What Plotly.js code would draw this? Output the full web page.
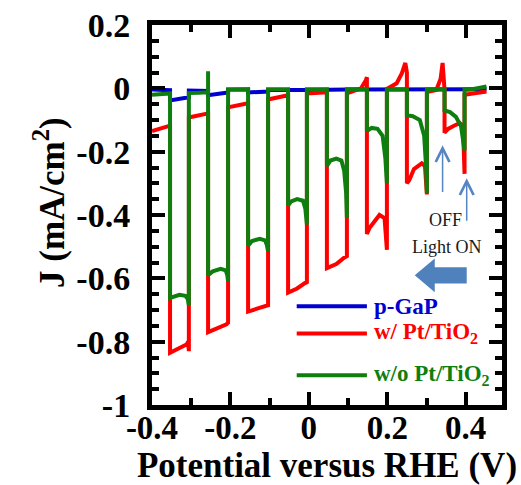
<!DOCTYPE html>
<html>
<head>
<meta charset="utf-8">
<script src="https://cdn.plot.ly/plotly-3.0.1.min.js"></script>
<style>html,body{margin:0;padding:0;background:#fff;}#chart{width:521px;height:485px;}</style>
</head>
<body>
<div id="chart"></div>
<script>
// ---- data (potential V vs RHE, current density mA/cm2) ----
const blueX = [-0.400,-0.354,-0.354,-0.330,-0.306,-0.306,-0.257,-0.257,-0.230,-0.206,-0.206,-0.155,-0.155,-0.130,-0.104,-0.104,-0.053,0.000,0.100,0.200,0.300,0.400,0.453];
const blueY = [-0.004,-0.006,-0.038,-0.033,-0.028,-0.007,-0.008,-0.022,-0.017,-0.013,-0.004,-0.004,-0.013,-0.011,-0.010,-0.005,-0.006,-0.005,-0.004,-0.004,-0.003,-0.003,-0.003];

const redX = [-0.400,-0.354,-0.354,-0.335,-0.318,-0.311,-0.308,-0.306,-0.306,-0.257,
  -0.257,-0.230,-0.210,-0.206,-0.206,-0.155,
  -0.155,-0.130,-0.110,-0.104,-0.104,-0.053,
  -0.053,-0.030,-0.010,-0.005,-0.005,0.046,
  0.046,0.070,0.090,0.097,0.097,0.133,0.145,0.148,
  0.148,0.155,0.180,0.193,0.199,0.199,0.224,0.237,0.246,0.250,
  0.250,0.256,0.268,0.288,0.296,0.301,0.301,0.325,0.336,0.341,0.344,0.346,
  0.346,0.355,0.370,0.385,0.393,0.397,0.397,0.453];
const redY = [-0.135,-0.118,-0.835,-0.823,-0.812,-0.808,-0.800,-0.830,-0.092,-0.079,
  -0.770,-0.757,-0.745,-0.740,-0.060,-0.047,
  -0.705,-0.695,-0.685,-0.685,-0.035,-0.022,
  -0.645,-0.632,-0.615,-0.612,-0.016,-0.012,
  -0.568,-0.555,-0.535,-0.530,-0.016,0.000,0.025,0.035,
  -0.460,-0.440,-0.400,-0.410,-0.510,-0.002,0.016,0.047,0.080,0.050,
  -0.300,-0.290,-0.255,-0.237,-0.245,-0.335,-0.012,-0.005,0.030,0.080,0.030,-0.005,
  -0.140,-0.128,-0.118,-0.110,-0.120,-0.270,-0.020,-0.010];

const greenX = [-0.400,-0.354,-0.354,-0.345,-0.330,-0.315,-0.309,-0.306,-0.306,-0.280,-0.257,-0.257,
  -0.257,-0.245,-0.225,-0.212,-0.208,-0.206,-0.206,-0.155,
  -0.155,-0.145,-0.125,-0.112,-0.107,-0.104,-0.104,-0.053,
  -0.053,-0.045,-0.030,-0.015,-0.009,-0.005,-0.005,0.046,
  0.046,0.055,0.070,0.083,0.090,0.095,0.097,0.097,0.148,
  0.148,0.160,0.175,0.188,0.195,0.199,0.199,0.250,
  0.250,0.265,0.283,0.294,0.299,0.301,0.301,0.346,
  0.346,0.360,0.375,0.388,0.397,0.397,0.420,0.453];
const greenY = [-0.020,-0.016,-0.662,-0.658,-0.652,-0.655,-0.665,-0.685,-0.015,-0.014,-0.012,0.054,
  -0.590,-0.578,-0.570,-0.575,-0.590,-0.610,-0.004,-0.003,
  -0.497,-0.482,-0.475,-0.480,-0.495,-0.515,-0.003,-0.003,
  -0.370,-0.357,-0.350,-0.355,-0.380,-0.430,-0.003,-0.003,
  -0.245,-0.228,-0.222,-0.228,-0.260,-0.330,-0.410,-0.003,-0.003,
  -0.135,-0.125,-0.128,-0.150,-0.220,-0.300,-0.004,-0.004,
  -0.085,-0.088,-0.100,-0.150,-0.250,-0.330,-0.004,-0.004,
  -0.070,-0.075,-0.090,-0.120,-0.196,-0.005,-0.002,0.006];

const seriesNames = ['p-GaP', 'w/ Pt/TiO<sub>2</sub>', 'w/o Pt/TiO<sub>2</sub>'];
const xTickVals = [-0.4,-0.2,0,0.2,0.4];
const xTickText = ['-0.4','-0.2','0','0.2','0.4'];
const yTickVals = [-1,-0.8,-0.6,-0.4,-0.2,0,0.2];
const yTickText = ['-1','-0.8','-0.6','-0.4','-0.2','0','0.2'];

const BLUE = '#0000d0', RED = '#ff0000', GREEN = '#0e7f0e', ARROW = '#5585c2';
const SERIF = 'Liberation Serif, Times New Roman, serif';

const traces = [
  {x: blueX, y: blueY, name: seriesNames[0], mode: 'lines', line: {color: BLUE, width: 4}},
  {x: redX, y: redY, name: seriesNames[1], mode: 'lines', line: {color: RED, width: 4}},
  {x: greenX, y: greenY, name: seriesNames[2], mode: 'lines', line: {color: GREEN, width: 4}}
];

const axisCommon = {
  showline: true, linewidth: 5, linecolor: '#000', mirror: 'allticks',
  ticks: 'inside', ticklen: 13, tickwidth: 4, tickcolor: '#000',
  showgrid: false, zeroline: false, tickmode: 'array'
};

// legend entries (line sample + label) placed inside the axes
const legY = [-0.688, -0.774, -0.906];
const legColors = [BLUE, RED, GREEN];
const shapes = legY.map((yy, i) => ({
  type: 'line', xref: 'x', yref: 'y', x0: -0.031, x1: 0.148, y0: yy, y1: yy,
  line: {color: legColors[i], width: 4}
}));
// big block arrow (scan direction)
shapes.push({
  type: 'path', xref: 'x', yref: 'y',
  path: 'M 0.270,-0.590 L 0.321,-0.537 L 0.321,-0.565 L 0.4025,-0.565 L 0.4025,-0.616 L 0.321,-0.616 L 0.321,-0.644 Z',
  fillcolor: '#4f81bd', line: {width: 0}
});

const annotations = legY.map((yy, i) => ({
  x: 0.160, y: yy, xref: 'x', yref: 'y', xanchor: 'left', yanchor: 'middle',
  text: seriesNames[i], showarrow: false,
  font: {family: SERIF, size: 23, color: legColors[i], weight: 700}
}));
annotations.push(
  {x: 0.341, y: -0.180, ax: 0.341, ay: -0.332, xref: 'x', yref: 'y', axref: 'x', ayref: 'y',
   showarrow: true, arrowhead: 5, arrowsize: 1.8, arrowwidth: 1.5, arrowcolor: ARROW, text: ''},
  {x: 0.4025, y: -0.284, ax: 0.4025, ay: -0.423, xref: 'x', yref: 'y', axref: 'x', ayref: 'y',
   showarrow: true, arrowhead: 5, arrowsize: 1.8, arrowwidth: 1.5, arrowcolor: ARROW, text: ''},
  {x: 0.348, y: -0.417, xref: 'x', yref: 'y', text: 'OFF', showarrow: false,
   font: {family: SERIF, size: 18, color: '#1a1a1a'}},
  {x: 0.353, y: -0.502, xref: 'x', yref: 'y', text: 'Light ON', showarrow: false,
   font: {family: SERIF, size: 18, color: '#1a1a1a'}},
  // y-axis title (placed as rotated text so it can sit close to the tick labels)
  {x: -0.2914, y: 0.5316, xref: 'paper', yref: 'paper', xanchor: 'center', yanchor: 'middle',
   text: 'J (mA/cm<sup>2</sup>)', textangle: -90, showarrow: false,
   font: {family: SERIF, size: 35, color: '#000', weight: 700}}
);

const layout = {
  width: 521, height: 485,
  margin: {l: 152, r: 19, t: 25, b: 80},
  paper_bgcolor: '#fff', plot_bgcolor: '#fff',
  showlegend: false,
  xaxis: Object.assign({}, axisCommon, {
    range: [-0.4, 0.4925], tickvals: xTickVals, ticktext: xTickText, ticklabelstandoff: -11,
    tickfont: {family: SERIF, size: 33, color: '#000', weight: 700},
    minor: {tickmode: 'linear', tick0: 0, dtick: 0.1, ticks: 'inside', ticklen: 7, tickwidth: 4, tickcolor: '#000'},
    title: {text: 'Potential versus RHE (V)', font: {family: SERIF, size: 35, color: '#000', weight: 700}, standoff: 19}
  }),
  yaxis: Object.assign({}, axisCommon, {
    range: [-1, 0.2], tickvals: yTickVals, ticktext: yTickText, ticklabelstandoff: 10,
    tickfont: {family: SERIF, size: 34, color: '#000', weight: 700},
    minor: {tickmode: 'linear', tick0: 0, dtick: 0.05, ticks: 'inside', ticklen: 7, tickwidth: 4, tickcolor: '#000'}
  }),
  shapes: shapes,
  annotations: annotations
};

Plotly.newPlot('chart', traces, layout, {displayModeBar: false, staticPlot: true});
</script>
</body>
</html>
